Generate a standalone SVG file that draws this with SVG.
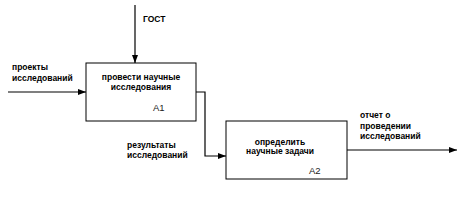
<svg xmlns="http://www.w3.org/2000/svg" width="474" height="210" viewBox="0 0 474 210">
<style>
.box{fill:#fff;stroke:#000;stroke-width:1}
.ln{fill:none;stroke:#000;stroke-width:1.2}
text{font-family:"Liberation Sans",Arial,sans-serif;font-size:8.5px;font-weight:bold;fill:#000}
.id{font-weight:normal;font-size:9.5px;fill:#222}
</style>
<defs>
<marker id="ah" viewBox="0 0 8 6" refX="8" refY="3" markerWidth="8" markerHeight="6" markerUnits="userSpaceOnUse" orient="auto">
<path d="M0,0 L8,3 L0,6 Z" fill="#000"/>
</marker>
</defs>
<rect width="474" height="210" fill="#fff"/>
<g id="connectors">
<path class="ln" d="M135,5 V63" marker-end="url(#ah)"/>
<path class="ln" d="M8,92 H86" marker-end="url(#ah)"/>
<path class="ln" d="M196,92 H205 V156 H226" marker-end="url(#ah)"/>
<path class="ln" d="M347,150 H457" marker-end="url(#ah)"/>
<text x="143" y="22">ГОСТ</text>
<text x="12" y="70">проекты</text>
<text x="12" y="81">исследований</text>
<text x="127" y="148">результаты</text>
<text x="127" y="158">исследований</text>
<text x="360" y="118">отчет о</text>
<text x="360" y="129">проведении</text>
<text x="360" y="139">исследований</text>
</g>
<g id="A1">
<rect class="box" x="86" y="63" width="110" height="58"/>
<text x="141" y="80" text-anchor="middle">провести научные</text>
<text x="141" y="90" text-anchor="middle">исследования</text>
<text class="id" x="153" y="111">A1</text>
</g>
<g id="A2">
<rect class="box" x="226" y="121" width="121" height="58"/>
<text x="280" y="145" text-anchor="middle">определить</text>
<text x="280" y="154" text-anchor="middle">научные задачи</text>
<text class="id" x="309" y="174">A2</text>
</g>
</svg>
